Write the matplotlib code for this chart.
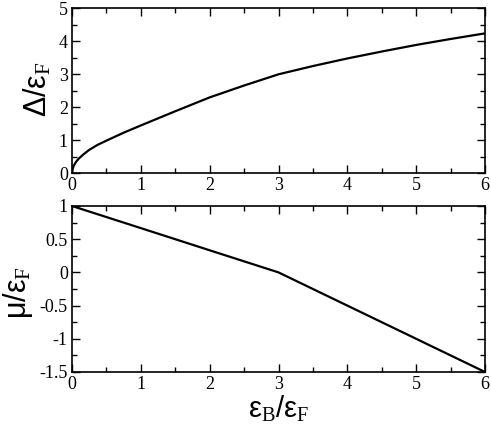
import numpy as np
import matplotlib.pyplot as plt
from matplotlib.ticker import MultipleLocator, FuncFormatter

plt.rcParams['mathtext.fontset'] = 'custom'
plt.rcParams['mathtext.rm'] = 'Liberation Serif'
plt.rcParams['mathtext.it'] = 'Liberation Serif:italic'

# valori
eb = [0.0, 0.01, 0.03, 0.06, 0.1, 0.17, 0.25, 0.37, 0.5, 0.75, 1.0, 1.5, 2.0, 2.5, 3.0,
      3.5, 4.0, 4.5, 5.0, 5.5, 6.0]
gap = [0.0, 0.14, 0.25, 0.35, 0.45, 0.58, 0.71, 0.86, 0.99, 1.23, 1.45, 1.88, 2.3, 2.66, 3.0,
       3.25, 3.48, 3.69, 3.89, 4.07, 4.24]
mu_x = [0.0, 1.0, 2.0, 3.0, 4.0, 5.0, 6.0]
mu = [1.0, 0.667, 0.333, 0.0, -0.5, -1.0, -1.5]

fig = plt.figure(figsize=(4.91, 4.29), dpi=100)
ax1 = fig.add_axes([72/491, 1-173.3/429, 413/491, 165/429])
ax2 = fig.add_axes([72/491, 1-372/429, 413/491, 166/429])

ax1.plot(eb, gap, color='black', lw=1.6)
ax2.plot(mu_x, mu, color='black', lw=1.6)

ax1.set_xlim(0, 6)
ax1.set_ylim(0, 5)
ax2.set_xlim(0, 6)
ax2.set_ylim(-1.5, 1)

ax1.yaxis.set_major_locator(MultipleLocator(1))
ax1.yaxis.set_minor_locator(MultipleLocator(0.5))
ax2.yaxis.set_major_locator(MultipleLocator(0.5))
ax2.yaxis.set_minor_locator(MultipleLocator(0.25))

def fmt(v, pos):
    return '%g' % v

for ax in (ax1, ax2):
    ax.xaxis.set_major_locator(MultipleLocator(1))
    ax.xaxis.set_minor_locator(MultipleLocator(0.5))
    ax.xaxis.set_major_formatter(FuncFormatter(fmt))
    ax.yaxis.set_major_formatter(FuncFormatter(fmt))
    ax.tick_params(which='both', direction='in', top=True, right=True, width=1.0)
    ax.tick_params(which='major', length=6, labelsize=13, pad=3)
    ax.tick_params(which='minor', length=3.5)
    for s in ax.spines.values():
        s.set_linewidth(1.2)
    for lab in ax.get_xticklabels() + ax.get_yticklabels():
        lab.set_family('Liberation Serif')

ax1.set_ylabel('Δ/ε$_\\mathrm{F}$', fontsize=22, family='Liberation Sans')
ax2.set_ylabel('μ/ε$_\\mathrm{F}$', fontsize=22, family='Liberation Sans')
ax2.set_xlabel('ε$_\\mathrm{B}$/ε$_\\mathrm{F}$', fontsize=21, family='Liberation Sans')
ax1.yaxis.set_label_coords(-0.045, 0.51)
ax2.yaxis.set_label_coords(-0.09, 0.48)
ax2.xaxis.set_label_coords(0.5, -0.13)

fig.savefig('out.png', dpi=100)
